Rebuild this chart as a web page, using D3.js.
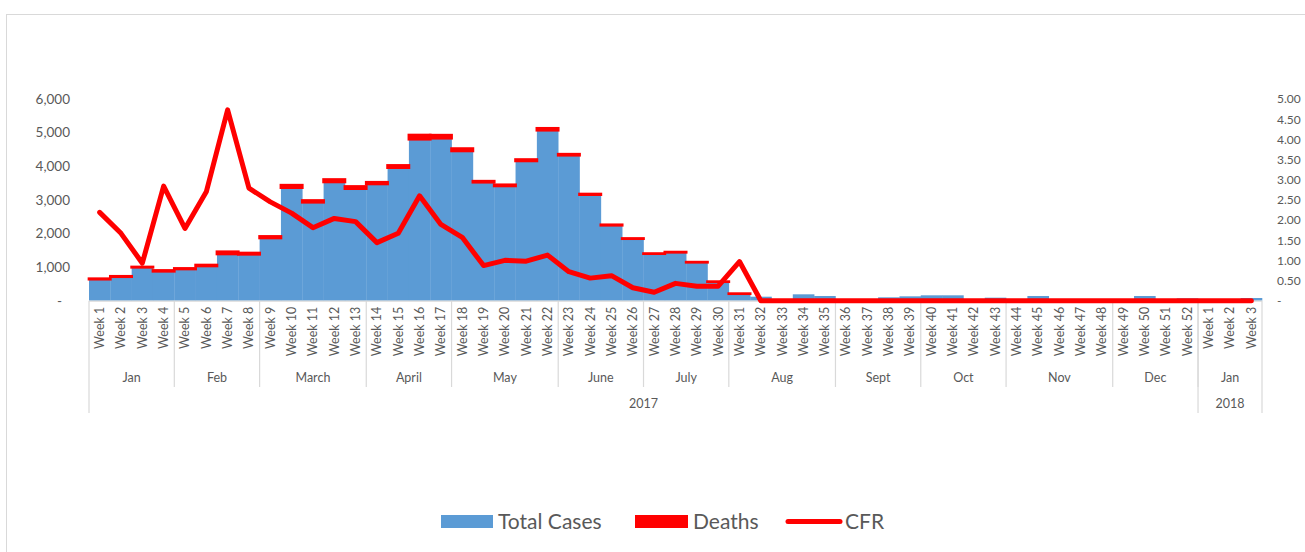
<!DOCTYPE html>
<html><head><meta charset="utf-8">
<script src="https://cdn.jsdelivr.net/npm/d3@7"></script>
<style>
body{margin:0;background:#fff}
svg{display:block}
text{font-family:Lato,"Open Sans",sans-serif;fill:#595959}
</style>
</head><body>
<svg id="c" width="1305" height="552"></svg>
<script>
const weekLabels = ["Week 1","Week 2","Week 3","Week 4","Week 5","Week 6","Week 7","Week 8","Week 9","Week 10",
"Week 11","Week 12","Week 13","Week 14","Week 15","Week 16","Week 17","Week 18","Week 19","Week 20",
"Week 21","Week 22","Week 23","Week 24","Week 25","Week 26","Week 27","Week 28","Week 29","Week 30",
"Week 31","Week 32","Week 33","Week 34","Week 35","Week 36","Week 37","Week 38","Week 39","Week 40",
"Week 41","Week 42","Week 43","Week 44","Week 45","Week 46","Week 47","Week 48","Week 49","Week 50",
"Week 51","Week 52","Week 1","Week 2","Week 3"];
const monthNames = ["Jan","Feb","March","April","May","June","July","Aug","Sept","Oct","Nov","Dec","Jan"];
const monthWeekCounts = [4,4,5,4,5,4,4,5,4,4,5,4,3];
const yearNames = ["2017","2018"];
const yearWeekCounts = [52,3];
const totalCases = [640,714,994,875,943,1033,1390,1380,1866,3363,
2928,3533,3333,3473,3958,4803,4833,4455,3524,3414,
4158,5071,4327,3155,2244,1845,1399,1440,1143,565,
208,119,30,190,140,20,20,100,130,160,
160,40,90,40,140,30,20,20,30,140,
40,70,40,40,80];
const deaths = [14,12,9,25,17,28,66,38,46,73,
53,72,65,50,66,125,91,70,31,34,
41,57,31,18,14,6,3,6,4,2,
2,0,0,0,0,0,0,0,0,0,
0,0,0,0,0,0,0,0,0,0,
0,0,0,0,0];
const cfr = [2.19,1.67,0.93,2.84,1.79,2.70,4.73,2.79,2.45,2.17,
1.81,2.04,1.96,1.44,1.67,2.60,1.89,1.57,0.87,1.00,
0.98,1.13,0.72,0.56,0.62,0.32,0.21,0.43,0.36,0.36,
0.97,0,0,0,0,0,0,0,0,0,
0,0,0,0,0,0,0,0,0,0,
0,0,0,0,0];
const leftTicks = [0,1000,2000,3000,4000,5000,6000];
const rightTicks = [0,0.5,1,1.5,2,2.5,3,3.5,4,4.5,5];

const BLUE = "#5B9BD5", RED = "#FF0000", GRID = "#D9D9D9";
const svg = d3.select("#c");
const L = 89, R = 1262, T = 99, B = 300.7;

svg.append("rect").attr("x",6.5).attr("y",14.5).attr("width",1320).attr("height",560)
  .attr("fill","none").attr("stroke",GRID);

const idx = d3.range(weekLabels.length);
const x = d3.scaleBand().domain(idx).range([L,R]).padding(0);
const yL = d3.scaleLinear().domain([0,6000]).range([B,T]);
const yR = d3.scaleLinear().domain([0,5]).range([B,T]);
const bw = x.bandwidth();

// bars
svg.append("g").selectAll("rect").data(idx).join("rect")
  .attr("x", i => x(i)).attr("width", bw + 0.3)
  .attr("y", i => yL(totalCases[i])).attr("height", i => B - yL(totalCases[i]))
  .attr("fill", BLUE);
// deaths stacked
svg.append("g").selectAll("rect").data(idx.filter(i => deaths[i] > 0)).join("rect")
  .attr("x", i => x(i)).attr("width", bw)
  .attr("y", i => yL(totalCases[i] + deaths[i]))
  .attr("height", i => yL(totalCases[i]) - yL(totalCases[i] + deaths[i]))
  .attr("fill", RED).attr("stroke", RED).attr("stroke-width", 2.7);

// left axis
const axL = svg.append("g").attr("transform",`translate(${L-19},0)`)
  .call(d3.axisLeft(yL).tickValues(leftTicks).tickSize(0).tickPadding(0)
    .tickFormat(d => d === 0 ? "-" : d3.format(",")(d)));
axL.select(".domain").remove();
axL.selectAll("text").style("font-family","Lato,'Open Sans',sans-serif").style("font-size","13.5px").attr("fill","#595959");
axL.selectAll(".tick").filter(d => d===0).select("text").attr("dx",-8);

// right axis
const axR = svg.append("g").attr("transform",`translate(${R+15},0)`)
  .call(d3.axisRight(yR).tickValues(rightTicks).tickSize(0).tickPadding(0)
    .tickFormat(d => d === 0 ? "-" : d3.format(".2f")(d)));
axR.select(".domain").remove();
axR.selectAll("text").style("font-family","Lato,'Open Sans',sans-serif").style("font-size","12px").attr("fill","#595959");

// x axis line
svg.append("line").attr("x1",L).attr("x2",R).attr("y1",B+0.5).attr("y2",B+0.5).attr("stroke",GRID).attr("stroke-width",1.2);

// week labels via axisBottom
const axB = svg.append("g").attr("transform",`translate(0,${B})`)
  .call(d3.axisBottom(x).tickSize(0).tickPadding(0).tickFormat(i => weekLabels[i]));
axB.select(".domain").remove();
axB.selectAll("text")
  .style("font-family","Lato,'Open Sans',sans-serif").style("font-size","12.5px").attr("fill","#595959")
  .attr("transform","rotate(-90)").attr("text-anchor","end")
  .attr("x",-6).attr("y",0).attr("dy","0.35em");

// month group separators & labels
let acc = 0;
const g2 = svg.append("g");
monthNames.forEach((m,k) => {
  const s = acc, e = acc + monthWeekCounts[k];
  const x0 = x(s), x1 = x(e-1) + bw;
  g2.append("text").attr("x",(x0+x1)/2).attr("y",382).attr("text-anchor","middle")
    .style("font-size","12.5px").text(m);
  if (k > 0) g2.append("line").attr("x1",x0).attr("x2",x0).attr("y1",B).attr("y2",387).attr("stroke",GRID).attr("stroke-width",1.2);
  acc = e;
});
acc = 0;
yearNames.forEach((yv,k) => {
  const s = acc, e = acc + yearWeekCounts[k];
  const x0 = x(s), x1 = x(e-1) + bw;
  g2.append("text").attr("x",(x0+x1)/2).attr("y",408).attr("text-anchor","middle")
    .style("font-size","12.5px").text(yv);
  g2.append("line").attr("x1",x0).attr("x2",x0).attr("y1",B).attr("y2",413).attr("stroke",GRID).attr("stroke-width",1.2);
  acc = e;
});
g2.append("line").attr("x1",R).attr("x2",R).attr("y1",B).attr("y2",413).attr("stroke",GRID).attr("stroke-width",1.2);

// CFR line
const line = d3.line().x(i => x(i) + bw/2).y(i => yR(cfr[i]));
svg.append("path").datum(idx).attr("d",line).attr("fill","none")
  .attr("stroke",RED).attr("stroke-width",5).attr("stroke-linejoin","round").attr("stroke-linecap","round");

// legend
const lg = svg.append("g");
lg.append("rect").attr("x",441).attr("y",515).attr("width",52).attr("height",13).attr("fill",BLUE);
lg.append("text").attr("x",498).attr("y",529).style("font-size","21px").text("Total Cases");
lg.append("rect").attr("x",635).attr("y",515).attr("width",53).attr("height",13).attr("fill",RED);
lg.append("text").attr("x",693).attr("y",529).style("font-size","21px").text("Deaths");
lg.append("line").attr("x1",788).attr("x2",840).attr("y1",521.5).attr("y2",521.5).attr("stroke",RED).attr("stroke-width",5).attr("stroke-linecap","round");
lg.append("text").attr("x",845).attr("y",529).style("font-size","21px").text("CFR");
</script>
</body></html>
